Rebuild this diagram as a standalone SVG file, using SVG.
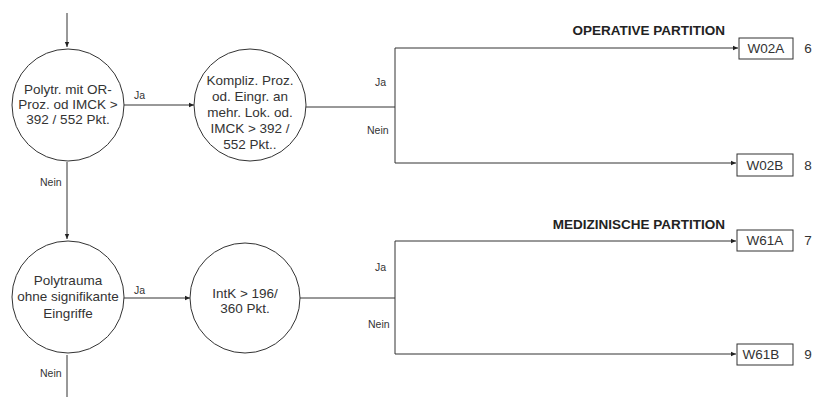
<svg xmlns="http://www.w3.org/2000/svg" width="813" height="397" viewBox="0 0 813 397">
<defs>
<marker id="arr" markerWidth="6" markerHeight="6" refX="5" refY="3" orient="auto" markerUnits="userSpaceOnUse">
<path d="M0,0.8 L5,3 L0,5.2 Z" fill="#222"/>
</marker>
<style>
.c{fill:#fff;stroke:#333;stroke-width:1}
.b{fill:#fff;stroke:#333;stroke-width:1}
.t{font-family:"Liberation Sans",Arial,sans-serif;font-size:13.5px;fill:#333;text-anchor:middle}
.l{font-family:"Liberation Sans",Arial,sans-serif;font-size:10.5px;fill:#333}
.h{font-family:"Liberation Sans",Arial,sans-serif;font-size:13.5px;font-weight:bold;fill:#222;text-anchor:end}
.n{font-family:"Liberation Sans",Arial,sans-serif;font-size:13.5px;fill:#333;text-anchor:middle}
.e{fill:none;stroke:#333;stroke-width:1}
</style>
</defs>
<rect width="813" height="397" fill="#fff"/>
<g id="connectors">
<path class="e" d="M67,13 V47" marker-end="url(#arr)"/>
<path class="e" d="M124,105 H194" marker-end="url(#arr)"/>
<path class="e" d="M67,162 V239" marker-end="url(#arr)"/>
<path class="e" d="M123,298 H190" marker-end="url(#arr)"/>
<path class="e" d="M67,355 V397"/>
<path class="e" d="M306,107 H395"/>
<path class="e" d="M395,48 V163"/>
<path class="e" d="M395,48 H738" marker-end="url(#arr)"/>
<path class="e" d="M395,163 H736" marker-end="url(#arr)"/>
<path class="e" d="M300,298 H395"/>
<path class="e" d="M395,241 V354"/>
<path class="e" d="M395,241 H736" marker-end="url(#arr)"/>
<path class="e" d="M395,354 H736" marker-end="url(#arr)"/>
<text class="l" x="134" y="99">Ja</text>
<text class="l" x="40" y="186">Nein</text>
<text class="l" x="134" y="294">Ja</text>
<text class="l" x="40" y="377">Nein</text>
<text class="l" x="375" y="86">Ja</text>
<text class="l" x="367" y="134">Nein</text>
<text class="l" x="375" y="271">Ja</text>
<text class="l" x="368" y="328">Nein</text>
</g>
<g id="n1">
<circle class="c" cx="68" cy="105" r="56"/>
<text class="t" x="68" y="94">Polytr. mit OR-</text>
<text class="t" x="68" y="109">Proz. od IMCK &gt;</text>
<text class="t" x="68" y="124">392 / 552 Pkt.</text>
</g>
<g id="n2">
<circle class="c" cx="250" cy="105" r="56"/>
<text class="t" x="250" y="85">Kompliz. Proz.</text>
<text class="t" x="250" y="101">od. Eingr. an</text>
<text class="t" x="250" y="117">mehr. Lok. od.</text>
<text class="t" x="250" y="133">IMCK &gt; 392 /</text>
<text class="t" x="250" y="149">552 Pkt..</text>
</g>
<g id="n3">
<circle class="c" cx="68" cy="297" r="56"/>
<text class="t" x="68" y="285">Polytrauma</text>
<text class="t" x="68" y="301">ohne signifikante</text>
<text class="t" x="68" y="318">Eingriffe</text>
</g>
<g id="n4">
<circle class="c" cx="245" cy="298" r="55"/>
<text class="t" x="245" y="298">IntK &gt; 196/</text>
<text class="t" x="245" y="313">360 Pkt.</text>
</g>
<text class="h" x="725" y="35">OPERATIVE PARTITION</text>
<text class="h" x="725" y="229">MEDIZINISCHE PARTITION</text>
<g id="W02A">
<rect class="b" x="739" y="38" width="54" height="21"/>
<text class="t" x="766" y="53">W02A</text>
<text class="n" x="808" y="53">6</text>
</g>
<g id="W02B">
<rect class="b" x="737" y="154" width="56" height="22"/>
<text class="t" x="765" y="170">W02B</text>
<text class="n" x="808" y="170">8</text>
</g>
<g id="W61A">
<rect class="b" x="737" y="230" width="56" height="21"/>
<text class="t" x="765" y="245">W61A</text>
<text class="n" x="808" y="245">7</text>
</g>
<g id="W61B">
<rect class="b" x="737" y="344" width="56" height="21"/>
<text class="t" x="761" y="359">W61B</text>
<text class="n" x="808" y="359">9</text>
</g>
</svg>
